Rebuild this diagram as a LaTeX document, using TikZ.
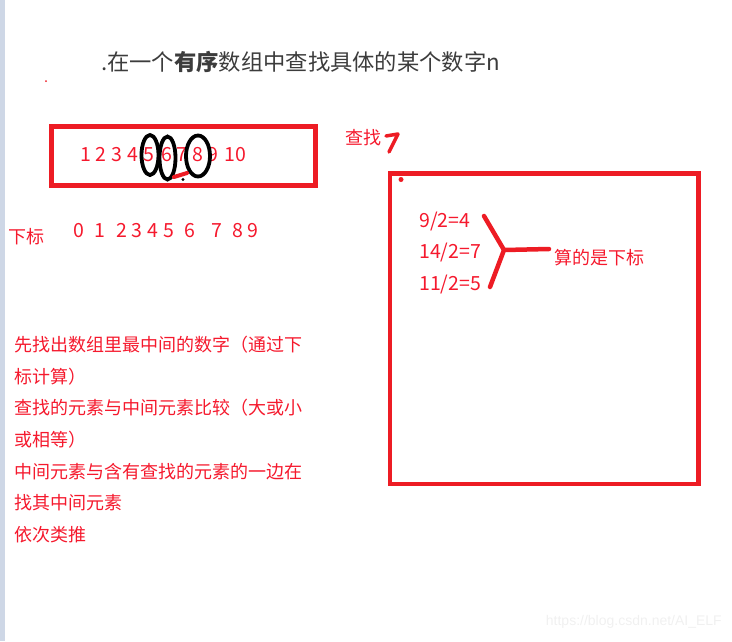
\documentclass[tikz,border=0pt]{standalone}
\usepackage{fontspec}
\setmainfont{Noto Sans CJK SC}
\newfontfamily\markfont{Liberation Sans}
\usetikzlibrary{positioning,calc}
\definecolor{markRed}{RGB}{237,28,36}
\definecolor{textRed}{RGB}{245,25,45}
\definecolor{titleGray}{RGB}{60,60,60}
\definecolor{sideBlue}{RGB}{206,215,230}
\definecolor{markGray}{RGB}{240,240,240}

\begin{document}
\begin{tikzpicture}[x=1pt,y=-1pt,
                num/.style={text=textRed,font=\fontsize{19.5}{19.5}\selectfont,inner sep=0pt,anchor=base},
                note/.style={text=textRed,font=\fontsize{18}{18}\selectfont,inner sep=0pt,anchor=west},
                frame/.style={draw=markRed,line width=5pt},
                pen/.style={draw=markRed,line width=4.5pt,line cap=round,line join=round},
                ring/.style={draw=black,line width=3.8pt}
            ]
                \useasboundingbox (0,0) rectangle (732,641);
                \fill[sideBlue] (0,0) rectangle (5,641);

                % title
                \node[font=\fontsize{22.3}{22}\selectfont,text=titleGray,inner sep=0pt,anchor=west] (title) at (101,62) {.在一个\textbf{有序}数组中查找具体的某个数字n};
                \fill[markRed] (46,81) circle (1);

                % the sorted array
                \draw[frame] (51,126) rectangle (315.5,185.5);
                \foreach \d/\x in {1/86,2/101,3/117,4/133,5/149,6/166.5,7/181.5,8/197.5,9/213,10/235}
                    \node[num] (n\d) at (\x,161) {\d};
                \draw[ring] ($(n5.base)+(1,-6)$) ellipse [x radius=8.5, y radius=20];
                \draw[ring] ($(n6.base)+(1,-3)$) ellipse [x radius=8, y radius=21.5];
                \draw[ring] ($(n8.base)+(0.5,-5)$) ellipse [x radius=12, y radius=20.5];
                \draw[pen,line width=4pt] (174,177) -- (187,173);
                \fill[black] (183,179.5) circle (1.6);

                \node[note] (find) at (345,138) {查找};
                \draw[pen,line width=3.5pt] (386,136) -- (398,134) -- (389,152);

                % indices
                \node[note] (idx) at (8,237) {下标};
                \foreach \d/\x in {0/79,1/100,2/122,3/137,4/153,5/169,6/190,7/217,8/238,9/253}
                    \node[num] (i\d) at (\x,237) {\d};

                % middle index calculation
                \draw[frame,line width=4.8pt] (390,173.5) rectangle (698.3,484);
                \fill[markRed] (401,179.5) circle (2.5);
                \node[num,anchor=base west] (e1) at (419,227) {9/2=4};
                \node[num,anchor=base west] (e2) at (419,258) {14/2=7};
                \node[num,anchor=base west] (e3) at (419,290) {11/2=5};
                \node[note] (calc) at (554,258) {算的是下标};
                \coordinate (fork) at (504,250);
                \coordinate (forkTop) at (484,216);
                \coordinate (forkLow) at (490,287);
                \coordinate (forkEnd) at (549,249);
                \draw[pen] (forkTop) -- (fork) -- (forkLow);
                \draw[pen] (fork) -- (forkEnd);

                % steps
                \node[note] (s1) at (14,345) {先找出数组里最中间的数字（通过下};
                \node[note] (s2) at (14,377) {标计算）};
                \node[note] (s3) at (14,408) {查找的元素与中间元素比较（大或小};
                \node[note] (s4) at (14,440) {或相等）};
                \node[note] (s5) at (14,472) {中间元素与含有查找的元素的一边在};
                \node[note] (s6) at (14,503) {找其中间元素};
                \node[note] (s7) at (14,535) {依次类推};

                \node[font=\markfont\fontsize{14}{14}\selectfont,text=markGray,inner sep=0pt,anchor=east] (wm) at (722,622) {https://blog.csdn.net/AI\_ELF};
            \end{tikzpicture}
\end{document}
